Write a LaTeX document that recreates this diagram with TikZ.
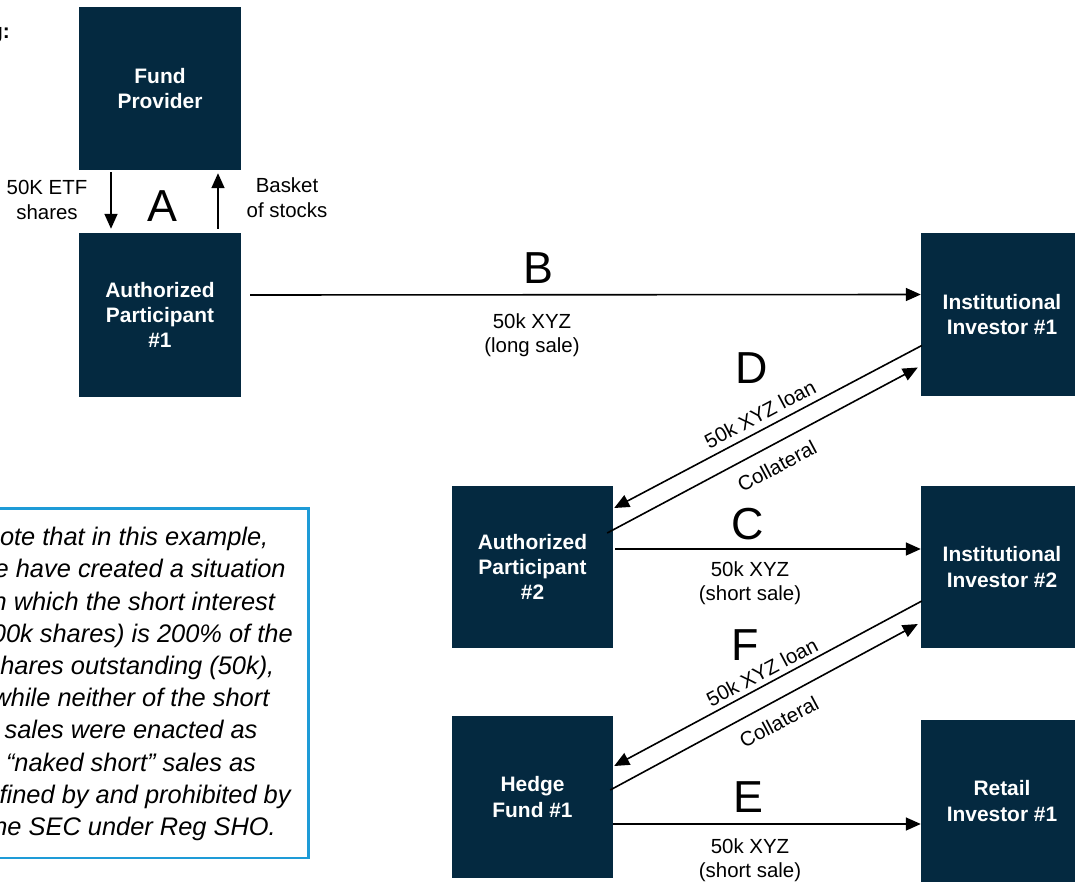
\documentclass[tikz,border=0pt]{standalone}
\usepackage{fontspec}
\setmainfont{Liberation Sans}
\usetikzlibrary{arrows.meta,calc}
\definecolor{navy}{RGB}{4,41,64}
\definecolor{noteblue}{RGB}{30,155,215}
\begin{document}
\begin{tikzpicture}[x=1bp,y=-1bp,
  box/.style={fill=navy, minimum width=162bp, minimum height=163bp, inner sep=0pt, text=white,
    font=\fontsize{21}{25.5}\selectfont\bfseries, align=center},
  arr/.style={-{Triangle[length=15bp,width=13bp]}, line width=1.6bp},
  big/.style={font=\fontsize{45}{50}\selectfont, inner sep=0pt},
  lbl/.style={font=\fontsize{20.5}{24.5}\selectfont, align=center, inner sep=0pt},
  note/.style={font=\fontsize{25.5}{32.3}\selectfont\itshape, align=center, inner sep=0pt},
]
\clip (0,0) rectangle (1075,882);
\useasboundingbox (0,0) rectangle (1075,882);

% title fragment
\node[anchor=base east, inner sep=0pt, font=\fontsize{21}{25}\selectfont\bfseries] (ttl) at (10,38) {g:};

% boxes
\node[box] (fp)  at (160,88.5)  {Fund\\Provider};
\node[box, minimum height=164bp] (ap1) at (160,315) {Authorized\\Participant\\\#1};
\node[box] (ii1) at (1002,314.5) {Institutional\\Investor \#1};
\node[box, minimum width=161bp, minimum height=162bp] (ap2) at (532.5,567) {Authorized\\Participant\\\#2};
\node[box, minimum height=162bp] (ii2) at (1002,567) {Institutional\\Investor \#2};
\node[box, minimum width=161bp, minimum height=162bp] (hf)  at (532.5,797) {Hedge\\Fund \#1};
\node[box, minimum height=162bp] (ri)  at (1002,801) {Retail\\Investor \#1};

% A
\draw[arr] ([shift={(-49,2)}]fp.south) -- ([shift={(-49,-4)}]ap1.north);
\draw[arr] ([shift={(58,-4)}]ap1.north) -- ([shift={(58,3)}]fp.south);
\node[big] (la) at (162,206) {A};
\node[lbl] (l50k) at (47,200) {50K ETF\\shares};
\node[lbl] (lbask) at (287,197.5) {Basket\\of stocks};

% B
\draw[arr] ([shift={(9,-20)}]ap1.east) -- ([shift={(0,-20)}]ii1.west);
\node[big] (lb) at (538,268) {B};
\node[lbl] (lbt) at (532,335) {50k XYZ\\(long sale)};

% D
\draw[arr] ([shift={(1,31)}]ii1.west) -- ([shift={(1,-59)}]ap2.east);
\draw[arr] ([shift={(-6,-34)}]ap2.east) -- ([shift={(-3,53)}]ii1.west);
\node[big] (ld) at (752,368) {D};
\node[lbl, rotate=28] (ldl) at (760,414) {50k XYZ loan};
\node[lbl, rotate=28] (ldc) at (777,466) {Collateral};

% C
\draw[arr] ([shift={(2,-18)}]ap2.east) -- ([shift={(0,-18)}]ii2.west);
\node[big] (lc) at (748,524) {C};
\node[lbl] (lct) at (750,583) {50k XYZ\\(short sale)};

% F
\draw[arr] ([shift={(1,34)}]ii2.west) -- ([shift={(1,-31)}]hf.east);
\draw[arr] ([shift={(-3,-7)}]hf.east) -- ([shift={(-3,57)}]ii2.west);
\node[big] (lf) at (745,645) {F};
\node[lbl, rotate=28] (lfl) at (762,672) {50k XYZ loan};
\node[lbl, rotate=28] (lfc) at (779,722) {Collateral};

% E
\draw[arr] ([shift={(0,27)}]hf.east) -- ([shift={(0,23)}]ri.west);
\node[big] (le) at (748,797) {E};
\node[lbl] (let) at (750,860) {50k XYZ\\(short sale)};

% note
\draw[noteblue, line width=2.6bp] (-20,508.5) rectangle (308.5,858);
\node[note] (nt) at (131,684) {Note that in this example,\hspace*{12bp}\\we have created a situation\\in which the short interest\\(100k shares) is 200\% of the\\shares outstanding (50k),\\while neither of the short\\sales were enacted as\\“naked short” sales as\\defined by and prohibited by\\the SEC under Reg SHO.};
\end{tikzpicture}
\end{document}
